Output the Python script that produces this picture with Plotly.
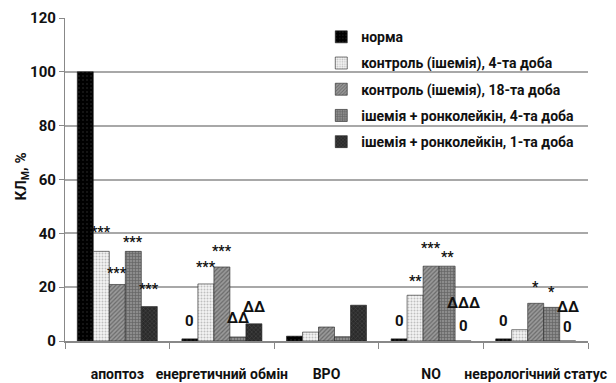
import plotly.graph_objects as go

categories = ["апоптоз", "енергетичний обмін", "ВРО", "NO", "неврологічний статус"]
series_names = [
    "норма",
    "контроль (ішемія), 4-та доба",
    "контроль (ішемія), 18-та доба",
    "ішемія + ронколейкін, 4-та доба",
    "ішемія + ронколейкін, 1-та доба",
]
norma = [100, 0.8, 1.8, 0.8, 0.8]
control_4 = [33.3, 21.2, 3.3, 17.0, 4.2]
control_18 = [21.0, 27.5, 5.2, 27.8, 14.0]
ronk_4 = [33.3, 1.5, 1.6, 27.8, 12.5]
ronk_1 = [12.8, 6.4, 13.3, 0, 0]
y_ticks = [0, 20, 40, 60, 80, 100, 120]

# significance labels: (category index, bar index, text, y value)
sig_cat = [0, 0, 0, 0, 1, 1, 1, 1, 1, 3, 3, 3, 3, 3, 3, 4, 4, 4, 4, 4]
sig_bar = [1, 2, 3, 4, 0, 1, 2, 3, 4, 0, 1, 2, 3, 4, 4, 0, 2, 3, 4, 4]
sig_text = ["***", "***", "***", "***", "0", "***", "***", "ΔΔ", "ΔΔ",
            "0", "**", "***", "**", "ΔΔΔ", "0", "0", "*", "*", "ΔΔ", "0"]
sig_y = [40.5, 25.3, 36.8, 19.3, 7.4, 27.5, 33.5, 8.6, 12.6,
         7.4, 22.3, 34.6, 31.2, 14.1, 5.6, 7.4, 20.0, 18.2, 12.6, 5.2]

values = [norma, control_4, control_18, ronk_4, ronk_1]
styles = [
    dict(color="#000000", pattern=dict(shape=".", fgcolor="#333333", size=4, solidity=0.2)),
    dict(color="#f4f4f4", pattern=dict(shape=".", fgcolor="#8a8a8a", size=3, solidity=0.35)),
    dict(color="#9a9a9a", pattern=dict(shape="/", fgcolor="#3a3a3a", size=3, solidity=0.4)),
    dict(color="#8c8c8c", pattern=dict(shape="+", fgcolor="#3c3c3c", size=3, solidity=0.4)),
    dict(color="#2a2a2a", pattern=dict(shape="x", fgcolor="#6a6a6a", size=3, solidity=0.3)),
]

FONT = "Roboto, Arial"

fig = go.Figure()
for i, (name, vals) in enumerate(zip(series_names, values)):
    st = styles[i]
    fig.add_trace(go.Bar(
        x=categories, y=vals, name=name, legendgroup=f"g{i}",
        marker=dict(color=st["color"], pattern=st["pattern"],
                    line=dict(color="#222222", width=0.6)),
    ))

bargap = 0.235
bw = (1 - bargap) / 5
for c, b, t, yv in zip(sig_cat, sig_bar, sig_text, sig_y):
    small = "*" in t
    fig.add_annotation(
        x=c + (b - 2) * bw, y=yv, xref="x", yref="y", text=f"<b>{t}</b>",
        showarrow=False, font=dict(family=FONT, size=14 if small else 15, color="#111111"),
    )

fig.add_annotation(
    x=0, y=0.5, xref="paper", yref="paper", xanchor="center", yanchor="middle",
    xshift=-44, yshift=3, textangle=-90,
    text="<b>КЛ<sub>М</sub>, %</b>", showarrow=False,
    font=dict(family=FONT, size=15, color="#111111"),
)

# the page body adds an 8px offset, so margins are shifted to compensate
fig.update_layout(
    width=616, height=383,
    margin=dict(l=57, r=36, t=10, b=50, autoexpand=False),
    paper_bgcolor="white", plot_bgcolor="white",
    barmode="group", bargap=bargap, bargroupgap=0,
    font=dict(family=FONT, color="#111111"),
    legend=dict(x=0.49, y=0.99, xanchor="left", yanchor="top",
                font=dict(family=FONT, size=14, color="#111111", weight="bold"),
                bgcolor="rgba(0,0,0,0)", tracegroupgap=5, itemwidth=30),
    showlegend=True,
)
fig.update_xaxes(
    showline=True, linecolor="#888888", linewidth=1.5,
    ticks="outside", tickson="boundaries", ticklen=6, tickcolor="#888888",
    tickfont=dict(family=FONT, size=14, color="#111111", weight="bold"),
    tickangle=0, ticklabelstandoff=19, automargin=False,
)
fig.update_yaxes(
    range=[0, 120], tickvals=y_ticks,
    showgrid=True, gridcolor="#a8a8a8", gridwidth=1.5,
    showline=True, linecolor="#888888", linewidth=1.2,
    ticks="outside", ticklen=5, tickcolor="#888888",
    tickfont=dict(family=FONT, size=15, color="#111111", weight="bold"),
    zeroline=False, automargin=False,
)
fig.write_html("out.html")
